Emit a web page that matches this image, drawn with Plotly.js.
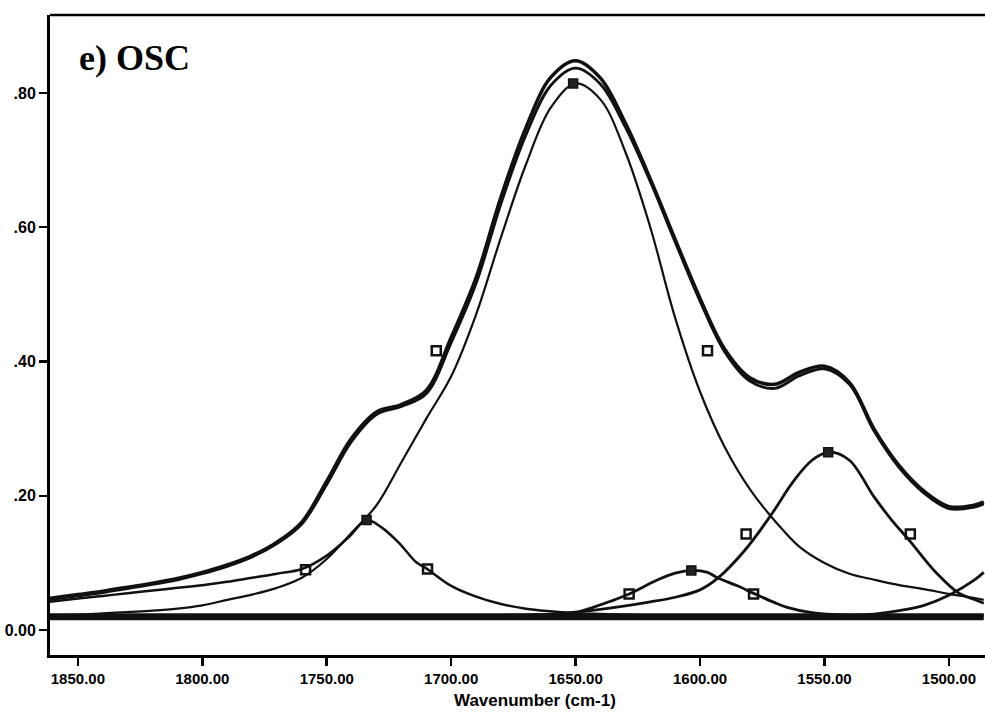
<!DOCTYPE html>
<html>
<head>
<meta charset="utf-8">
<script src="https://cdn.plot.ly/plotly-3.0.1.min.js"></script>
<style>
  html, body { margin: 0; padding: 0; background: #fff; }
  #chart { width: 985px; height: 712px; }
</style>
</head>
<body>
<div id="chart"></div>
<script>
// ---- Data ----
const wavenumbers = [1862,1850,1840,1830,1820,1810,1800,1790,1780,1770,1760,1750,1740,1730,1720,1710,1700,1690,1680,1670,1660,1650,1640,1630,1620,1610,1600,1590,1580,1570,1560,1550,1540,1530,1520,1510,1500,1490,1486];

const measured = [0.047,0.053,0.058,0.064,0.070,0.077,0.086,0.097,0.111,0.131,0.161,0.222,0.286,0.325,0.336,0.357,0.436,0.525,0.645,0.748,0.823,0.848,0.822,0.755,0.672,0.582,0.494,0.418,0.376,0.366,0.384,0.393,0.369,0.299,0.245,0.207,0.184,0.186,0.191];

const fitted = [0.045,0.051,0.056,0.062,0.068,0.075,0.084,0.095,0.109,0.129,0.158,0.217,0.281,0.321,0.333,0.352,0.428,0.516,0.635,0.737,0.811,0.837,0.813,0.749,0.668,0.578,0.490,0.414,0.371,0.360,0.379,0.389,0.366,0.296,0.242,0.204,0.181,0.183,0.188];

const band1650 = [0.022,0.023,0.025,0.027,0.029,0.032,0.037,0.045,0.053,0.063,0.078,0.106,0.145,0.186,0.250,0.315,0.378,0.470,0.585,0.693,0.778,0.814,0.790,0.712,0.600,0.465,0.355,0.272,0.210,0.163,0.124,0.100,0.084,0.075,0.067,0.061,0.054,0.048,0.045];

const wn1735 = [1862,1850,1840,1830,1820,1810,1800,1790,1780,1770,1760,1750,1741,1734,1728,1721,1714,1710,1700,1690,1680,1670,1660,1650,1640,1620,1600,1560,1520,1486];
const band1735 = [0.042,0.047,0.051,0.055,0.059,0.063,0.067,0.072,0.078,0.084,0.091,0.111,0.139,0.164,0.153,0.130,0.101,0.092,0.066,0.050,0.039,0.032,0.028,0.025,0.024,0.022,0.021,0.021,0.021,0.021];

const wn1603 = [1690,1670,1660,1650,1643,1636,1629,1617,1610,1603,1597,1593,1585,1578,1570,1565,1555,1545,1530];
const band1603 = [0.021,0.022,0.023,0.026,0.034,0.043,0.053,0.075,0.085,0.089,0.086,0.078,0.066,0.054,0.041,0.034,0.026,0.023,0.021];

const wn1548 = [1700,1680,1660,1650,1640,1630,1620,1610,1600,1593,1582,1571,1563,1555,1548,1540,1530,1523,1516,1505,1496,1490,1486];
const band1548 = [0.021,0.022,0.024,0.027,0.031,0.036,0.042,0.049,0.060,0.077,0.119,0.174,0.219,0.253,0.265,0.253,0.198,0.164,0.134,0.085,0.055,0.046,0.040];

const wn1480 = [1580,1560,1545,1530,1520,1510,1500,1490,1486];
const band1480 = [0.021,0.021,0.022,0.024,0.029,0.037,0.052,0.074,0.086];

const baselineX = [1862,1486];
const baselineY = [0.020,0.020];

const peakMarkX = [1651,1734,1603.5,1548.5];
const peakMarkY = [0.814,0.164,0.089,0.265];
const halfMarkX = [1706,1597,1758.5,1709.5,1628.5,1578.5,1581.5,1515.5];
const halfMarkY = [0.416,0.416,0.090,0.091,0.054,0.054,0.143,0.143];

const xTickVals = [1850,1800,1750,1700,1650,1600,1550,1500];
const xTickText = ['1850.00','1800.00','1750.00','1700.00','1650.00','1600.00','1550.00','1500.00'];
const yTickVals = [0,0.2,0.4,0.6,0.8];
const yTickText = ['0.00','.20','.40','.60','.80'];

// ---- Traces ----
const ink = '#111';
function curve(x, y, w) {
  return {x: x, y: y, type: 'scatter', mode: 'lines', hoverinfo: 'skip',
          line: {color: ink, width: w, shape: 'spline', smoothing: 1}};
}
const traces = [
  {x: baselineX, y: baselineY, type: 'scatter', mode: 'lines', line: {color: ink, width: 7}},
  curve(wn1480, band1480, 2.8),
  curve(wn1548, band1548, 2.8),
  curve(wn1603, band1603, 2.8),
  curve(wn1735, band1735, 2.5),
  curve(wavenumbers, band1650, 2.2),
  curve(wavenumbers, fitted, 2.8),
  curve(wavenumbers, measured, 3.5),
  {x: peakMarkX, y: peakMarkY, type: 'scatter', mode: 'markers',
   marker: {symbol: 'square', size: 9, color: '#222', line: {color: ink, width: 1.5}}},
  {x: halfMarkX, y: halfMarkY, type: 'scatter', mode: 'markers',
   marker: {symbol: 'square-open', size: 9, color: ink, line: {color: ink, width: 2.5}}}
];

const tickFont = {family: "'Liberation Sans', Arial, sans-serif", size: 15, color: '#000', weight: 'bold'};

const layout = {
  width: 985, height: 712,
  margin: {l: 50, r: 0, t: 15, b: 57},
  paper_bgcolor: '#fff', plot_bgcolor: '#fff',
  showlegend: false,
  xaxis: {
    range: [1861.2, 1485.5], autorange: false,
    tickvals: xTickVals, ticktext: xTickText,
    ticks: 'outside', ticklen: 8, tickwidth: 2.5, tickcolor: '#000',
    showline: true, linewidth: 3, linecolor: '#000',
    showgrid: false, zeroline: false,
    tickfont: tickFont
  },
  yaxis: {
    range: [-0.037, 0.916], autorange: false,
    tickvals: yTickVals, ticktext: yTickText,
    ticks: 'outside', ticklen: 8, tickwidth: 2.5, tickcolor: '#000',
    showline: true, linewidth: 3, linecolor: '#000',
    showgrid: false, zeroline: false,
    tickfont: {family: "'Liberation Sans', Arial, sans-serif", size: 16, color: '#000', weight: 'bold'}
  },
  shapes: [
    {type: 'line', xref: 'paper', yref: 'paper', x0: 0, x1: 1, y0: 1, y1: 1,
     line: {color: '#000', width: 2.5}}
  ],
  annotations: [
    {text: 'e) OSC', xref: 'paper', yref: 'paper', x: 0.029, y: 0.933,
     xanchor: 'left', yanchor: 'middle', showarrow: false,
     font: {family: "'Liberation Serif', 'Times New Roman', serif", size: 36, color: '#000', weight: 'bold'}},
    {text: 'Wavenumber (cm-1)', xref: 'paper', yref: 'paper', x: 0.519, y: -0.071,
     xanchor: 'center', yanchor: 'middle', showarrow: false,
     font: {family: "'Liberation Sans', Arial, sans-serif", size: 17, color: '#000', weight: 'bold'}}
  ]
};

Plotly.newPlot('chart', traces, layout, {displayModeBar: false, staticPlot: true});
</script>
</body>
</html>
